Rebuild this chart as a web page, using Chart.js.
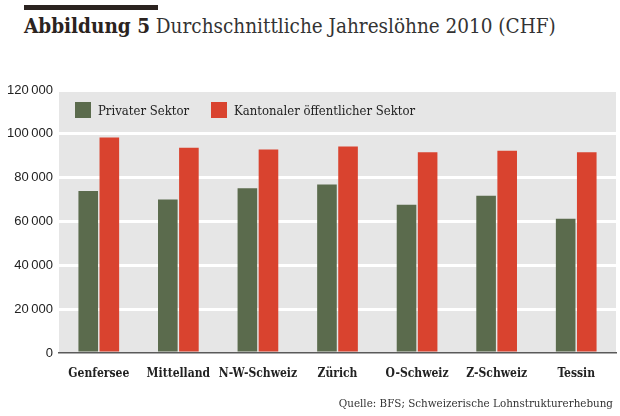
<!DOCTYPE html>
<html>
<head>
<meta charset="utf-8">
<script src="https://cdn.jsdelivr.net/npm/chart.js@4/dist/chart.umd.min.js"></script>
<style>
  html, body { margin: 0; padding: 0; background: #fff; }
  #wrap { position: relative; width: 620px; height: 416px; overflow: hidden; }
  #topbar { position: absolute; left: 24px; top: 5px; width: 134px; height: 5px; background: #2b2320; }
  #title { position: absolute; left: 24px; top: 14px; font-family: "DejaVu Serif Condensed", "DejaVu Serif", serif; font-size: 20.5px; color: #333; white-space: nowrap; }
  #title b { color: #2b2320; }
  #legend { position: absolute; left: 75px; top: 102px; font-family: "DejaVu Serif Condensed", "DejaVu Serif", serif; font-size: 13px; color: #222; display: flex; align-items: center; }
  #legend span.item { display: flex; align-items: center; margin-right: 22px; }
  #legend i { display: inline-block; width: 16px; height: 16px; margin-right: 7px; }
  #source { position: absolute; right: 7px; top: 396px; font-family: "DejaVu Serif Condensed", "DejaVu Serif", serif; font-size: 11.5px; color: #333; white-space: nowrap; }
  canvas { position: absolute; left: 0; top: 0; }
</style>
</head>
<body>
<div id="wrap">
  <div id="topbar"></div>
  <div id="title"><b>Abbildung 5</b> Durchschnittliche Jahreslöhne 2010 (CHF)</div>
  <canvas id="chart" width="620" height="416"></canvas>
  <div id="legend"></div>
  <div id="source">Quelle: BFS; Schweizerische Lohnstrukturerhebung</div>
</div>
<script>
const regions = ["Genfersee", "Mittelland", "N-W-Schweiz", "Zürich", "O-Schweiz", "Z-Schweiz", "Tessin"];
const privat = [73900, 70000, 75200, 76900, 67600, 71700, 61300];
const kantonal = [98300, 93700, 92800, 94200, 91600, 92300, 91600];
const yTicks = [0, 20000, 40000, 60000, 80000, 100000, 120000];

const GREEN = "#5b6b4d";
const RED = "#d9432f";

// grey plot background
const plotBg = {
  id: "plotBg",
  beforeDraw(chart) {
    const { ctx, chartArea: a } = chart;
    ctx.save();
    ctx.fillStyle = "#e6e6e6";
    ctx.fillRect(a.left, a.top, a.right - a.left, a.bottom - a.top);
    ctx.restore();
  },
};

function fmt(v) {
  return String(v).replace(/\B(?=(\d{3})+(?!\d))/g, "\u2009");
}

const chart = new Chart(document.getElementById("chart"), {
  type: "bar",
  data: {
    labels: regions,
    datasets: [
      { label: "Privater Sektor", data: privat, backgroundColor: GREEN },
      { label: "Kantonaler öffentlicher Sektor", data: kantonal, backgroundColor: RED },
    ],
  },
  options: {
    responsive: false,
    animation: false,
    devicePixelRatio: 1,
    layout: { padding: { left: 0, right: 4, top: 90, bottom: 33 } },
    categoryPercentage: 0.53,
    barPercentage: 0.93,
    plugins: { legend: { display: false }, tooltip: { enabled: false } },
    scales: {
      x: {
        grid: { display: false },
        border: { display: true, color: "#5a5a5a", width: 1.5 },
        ticks: {
          color: "#222",
          padding: 6,
          autoSkip: false,
          maxRotation: 0,
          minRotation: 0,
          font: { family: "'DejaVu Serif Condensed', 'DejaVu Serif', serif", size: 12, weight: "bold" },
        },
        afterFit(s) { s.height = 30; },
      },
      y: {
        min: 0,
        max: 120000,
        afterBuildTicks(s) { s.ticks = yTicks.map((v) => ({ value: v })); },
        grid: {
          color: (c) => (c.tick && c.tick.value === 0 ? "rgba(0,0,0,0)" : "#ffffff"),
          lineWidth: 3,
          drawTicks: false,
        },
        border: { display: false },
        ticks: {
          color: "#222",
          padding: 6,
          callback: (v) => fmt(v),
          font: { family: "'Liberation Sans', sans-serif", size: 13 },
        },
        afterFit(s) { s.width = 59; },
      },
    },
  },
  plugins: [plotBg],
});

document.getElementById("legend").innerHTML = chart.data.datasets
  .map((d) => `<span class="item"><i style="background:${d.backgroundColor}"></i>${d.label}</span>`)
  .join("");
</script>
</body>
</html>
